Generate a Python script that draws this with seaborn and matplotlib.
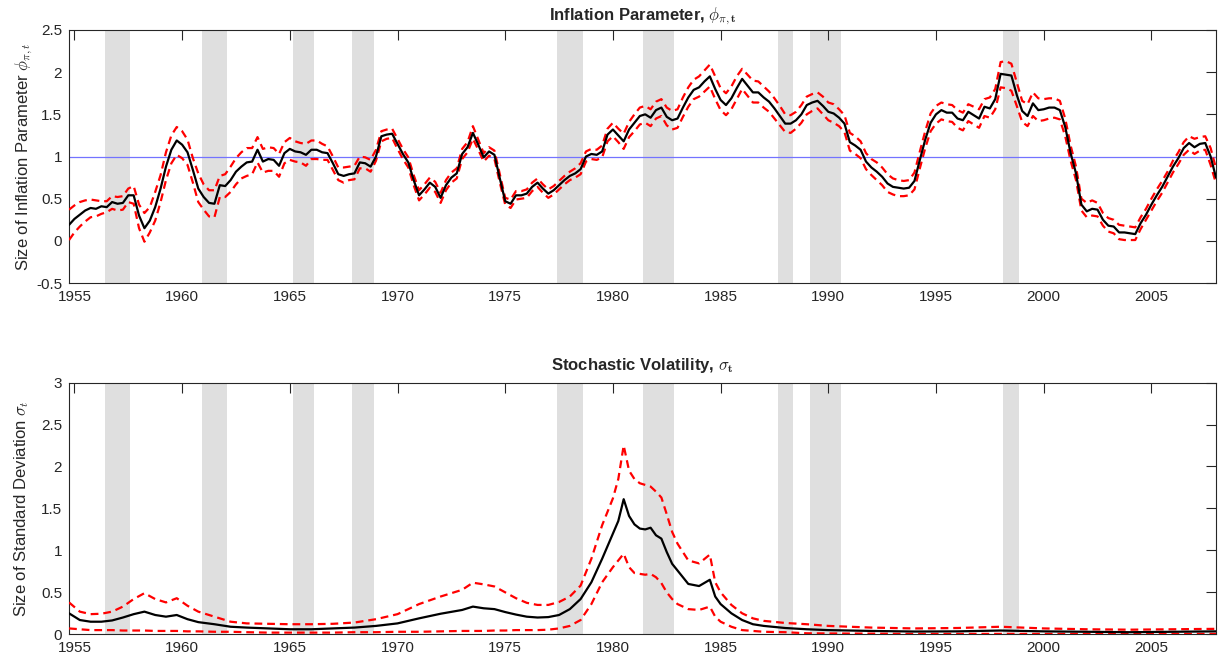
import numpy as np
import pandas as pd
import matplotlib
matplotlib.use("Agg")
import matplotlib.pyplot as plt
import seaborn as sns
from matplotlib.ticker import FuncFormatter

# ========== Данные ==========
# квартальная сетка 1954Q4 ... 2008Q1
quarters = np.arange(1954.75, 2008.0 + 0.01, 0.25)

phi_median = [
    0.19,
    0.26, 0.31, 0.36, 0.39,  # 1955
    0.38, 0.41, 0.40, 0.46,
    0.44, 0.45, 0.54, 0.54,
    0.30, 0.15, 0.24, 0.40,
    0.62, 0.88, 1.08, 1.19,
    1.14, 1.05, 0.84, 0.62,  # 1960
    0.52, 0.45, 0.44, 0.66,
    0.65, 0.72, 0.82, 0.88,
    0.93, 0.94, 1.08, 0.94,
    0.97, 0.96, 0.89, 1.04,
    1.09, 1.06, 1.05, 1.02,  # 1965
    1.08, 1.08, 1.05, 1.04,
    0.92, 0.79, 0.77, 0.79,
    0.80, 0.93, 0.92, 0.88,
    1.00, 1.24, 1.26, 1.27,
    1.15, 1.03, 0.93, 0.72,  # 1970
    0.54, 0.61, 0.69, 0.64,
    0.51, 0.66, 0.75, 0.80,
    1.03, 1.11, 1.28, 1.14,
    0.99, 1.06, 1.02, 0.74,
    0.47, 0.44, 0.54, 0.54,  # 1975
    0.56, 0.64, 0.69, 0.62,
    0.56, 0.60, 0.66, 0.72,
    0.77, 0.80, 0.85, 1.00,
    1.03, 1.02, 1.06, 1.26,
    1.32, 1.25, 1.18, 1.32,  # 1980
    1.40, 1.48, 1.50, 1.46,
    1.55, 1.58, 1.47, 1.43,
    1.45, 1.58, 1.70, 1.79,
    1.82, 1.89, 1.95, 1.80,
    1.67, 1.61, 1.69, 1.81,  # 1985
    1.92, 1.84, 1.76, 1.76,
    1.70, 1.65, 1.57, 1.48,
    1.39, 1.39, 1.43, 1.50,
    1.61, 1.64, 1.66, 1.60,
    1.53, 1.51, 1.46, 1.39,  # 1990
    1.17, 1.13, 1.08, 0.94,
    0.87, 0.82, 0.76, 0.68,
    0.64, 0.63, 0.62, 0.63,
    0.71, 0.96, 1.20, 1.40,
    1.50, 1.55, 1.52, 1.52,  # 1995
    1.45, 1.43, 1.53, 1.49,
    1.45, 1.59, 1.57, 1.68,
    1.98, 1.97, 1.96, 1.73,
    1.54, 1.48, 1.63, 1.55,
    1.56, 1.58, 1.58, 1.55,  # 2000
    1.35, 1.04, 0.80, 0.43,
    0.35, 0.38, 0.37, 0.25,
    0.18, 0.17, 0.10, 0.10,
    0.09, 0.08, 0.21, 0.31,
    0.43, 0.54, 0.64, 0.76,  # 2005
    0.88, 0.98, 1.10, 1.16,
    1.11, 1.15, 1.16, 1.00,
    0.75,
]

phi_upper = [
    0.37,
    0.42, 0.46, 0.48, 0.49,  # 1955
    0.48, 0.47, 0.47, 0.53,
    0.52, 0.53, 0.62, 0.65,
    0.43, 0.33, 0.40, 0.58,
    0.78, 1.05, 1.25, 1.35,
    1.30, 1.20, 0.98, 0.80,  # 1960
    0.67, 0.60, 0.60, 0.77,
    0.79, 0.88, 0.98, 1.05,
    1.10, 1.10, 1.23, 1.09,
    1.11, 1.10, 1.03, 1.17,
    1.22, 1.18, 1.16, 1.15,  # 1965
    1.19, 1.19, 1.15, 1.12,
    1.00, 0.87, 0.87, 0.88,
    0.89, 1.00, 0.99, 0.96,
    1.08, 1.30, 1.32, 1.33,
    1.21, 1.09, 0.99, 0.78,  # 1970
    0.60, 0.67, 0.75, 0.70,
    0.57, 0.72, 0.81, 0.86,
    1.09, 1.17, 1.36, 1.20,
    1.04, 1.11, 1.07, 0.79,
    0.51, 0.49, 0.59, 0.59,  # 1975
    0.61, 0.69, 0.74, 0.67,
    0.61, 0.65, 0.71, 0.77,
    0.82, 0.86, 0.92, 1.06,
    1.09, 1.08, 1.13, 1.33,
    1.40, 1.33, 1.27, 1.41,  # 1980
    1.50, 1.58, 1.60, 1.56,
    1.65, 1.68, 1.58, 1.54,
    1.56, 1.70, 1.82, 1.91,
    1.95, 2.02, 2.09, 1.95,
    1.81, 1.75, 1.83, 1.95,  # 1985
    2.04, 1.97, 1.90, 1.89,
    1.83, 1.77, 1.69, 1.60,
    1.50, 1.49, 1.53, 1.61,
    1.71, 1.74, 1.76, 1.71,
    1.64, 1.62, 1.56, 1.49,  # 1990
    1.28, 1.24, 1.18, 1.04,
    0.97, 0.93, 0.87, 0.79,
    0.74, 0.72, 0.71, 0.72,
    0.81, 1.06, 1.30, 1.51,
    1.60, 1.64, 1.62, 1.61,  # 1995
    1.55, 1.52, 1.62, 1.59,
    1.56, 1.68, 1.70, 1.80,
    2.12, 2.13, 2.10, 1.88,
    1.66, 1.62, 1.76, 1.69,
    1.68, 1.69, 1.69, 1.66,  # 2000
    1.45, 1.13, 0.88, 0.50,
    0.45, 0.48, 0.45, 0.33,
    0.27, 0.25, 0.19, 0.18,
    0.17, 0.16, 0.28, 0.38,
    0.50, 0.61, 0.71, 0.82,  # 2005
    0.95, 1.05, 1.17, 1.24,
    1.21, 1.23, 1.24, 1.10,
    0.86,
]

phi_lower = [
    0.01,
    0.10, 0.17, 0.23, 0.28,  # 1955
    0.29, 0.32, 0.34, 0.38,
    0.36, 0.37, 0.46, 0.44,
    0.15, -0.01, 0.10, 0.24,
    0.46, 0.72, 0.92, 1.02,
    0.98, 0.90, 0.69, 0.46,  # 1960
    0.37, 0.29, 0.28, 0.52,
    0.52, 0.58, 0.67, 0.74,
    0.77, 0.79, 0.93, 0.81,
    0.83, 0.83, 0.76, 0.92,
    0.96, 0.94, 0.93, 0.89,  # 1965
    0.97, 0.97, 0.96, 0.96,
    0.84, 0.72, 0.69, 0.72,
    0.73, 0.86, 0.86, 0.82,
    0.95, 1.18, 1.21, 1.22,
    1.09, 0.97, 0.87, 0.66,  # 1970
    0.48, 0.55, 0.63, 0.58,
    0.45, 0.60, 0.69, 0.74,
    0.97, 1.05, 1.21, 1.08,
    0.94, 1.01, 0.97, 0.69,
    0.43, 0.39, 0.49, 0.50,  # 1975
    0.51, 0.59, 0.64, 0.57,
    0.51, 0.55, 0.61, 0.67,
    0.72, 0.75, 0.79, 0.94,
    0.97, 0.96, 0.99, 1.18,
    1.24, 1.17, 1.09, 1.23,  # 1980
    1.30, 1.38, 1.40, 1.36,
    1.45, 1.48, 1.37, 1.32,
    1.34, 1.47, 1.59, 1.68,
    1.71, 1.77, 1.83, 1.68,
    1.55, 1.49, 1.56, 1.68,  # 1985
    1.80, 1.72, 1.64, 1.64,
    1.58, 1.53, 1.45, 1.37,
    1.29, 1.28, 1.33, 1.40,
    1.50, 1.54, 1.57, 1.50,
    1.43, 1.40, 1.36, 1.29,  # 1990
    1.07, 1.03, 0.98, 0.85,
    0.78, 0.72, 0.66, 0.58,
    0.55, 0.53, 0.53, 0.54,
    0.61, 0.86, 1.10, 1.30,
    1.39, 1.44, 1.42, 1.41,  # 1995
    1.34, 1.31, 1.42, 1.38,
    1.34, 1.48, 1.46, 1.56,
    1.82, 1.81, 1.78, 1.60,
    1.41, 1.36, 1.48, 1.42,
    1.43, 1.45, 1.46, 1.44,  # 2000
    1.24, 0.95, 0.72, 0.36,
    0.28, 0.30, 0.29, 0.18,
    0.11, 0.09, 0.02, 0.01,
    0.01, 0.01, 0.14, 0.25,
    0.36, 0.47, 0.57, 0.69,  # 2005
    0.81, 0.91, 1.02, 1.08,
    1.03, 1.07, 1.08, 0.90,
    0.68,
]

# стохастическая волатильность (неравномерная сетка по годам)
vol_years = [
    1954.75, 1955.25, 1955.75, 1956.25, 1956.75, 1957.25, 1957.75, 1958.25,
    1958.75, 1959.25, 1959.75, 1960.25, 1960.75, 1961.5, 1962.25, 1963,
    1964, 1965, 1966, 1967, 1968, 1969, 1970, 1971, 1972, 1973, 1973.5,
    1974, 1974.5, 1975, 1975.5, 1976, 1976.5, 1977, 1977.5, 1978, 1978.5,
    1979, 1979.5, 1980, 1980.25, 1980.5, 1980.75, 1981, 1981.25, 1981.5,
    1981.75, 1982, 1982.25, 1982.5, 1982.75, 1983, 1983.5, 1984, 1984.5,
    1984.75, 1985, 1985.5, 1986, 1986.5, 1987, 1988, 1989, 1990, 1992,
    1994, 1996, 1998, 2000, 2002, 2004, 2006, 2008,
]
vol_median = [
    0.25, 0.17, 0.15, 0.15, 0.165, 0.20, 0.24, 0.27,
    0.23, 0.21, 0.23, 0.18, 0.145, 0.12, 0.09, 0.08,
    0.07, 0.06, 0.06, 0.07, 0.08, 0.10, 0.13, 0.19, 0.245, 0.29, 0.33,
    0.31, 0.30, 0.265, 0.235, 0.21, 0.20, 0.205, 0.23, 0.30, 0.42,
    0.62, 0.90, 1.20, 1.35, 1.61, 1.41, 1.31, 1.26, 1.25,
    1.27, 1.18, 1.14, 0.98, 0.84, 0.76, 0.60, 0.575, 0.65,
    0.45, 0.36, 0.25, 0.17, 0.12, 0.10, 0.075, 0.06, 0.05, 0.04,
    0.033, 0.035, 0.045, 0.035, 0.03, 0.025, 0.03, 0.035,
]
vol_upper = [
    0.38, 0.27, 0.24, 0.245, 0.27, 0.33, 0.42, 0.49,
    0.42, 0.38, 0.43, 0.34, 0.27, 0.21, 0.15, 0.13,
    0.125, 0.12, 0.12, 0.125, 0.14, 0.18, 0.24, 0.36, 0.45, 0.53, 0.615,
    0.595, 0.57, 0.50, 0.43, 0.375, 0.35, 0.35, 0.385, 0.45, 0.58,
    0.90, 1.30, 1.62, 1.85, 2.25, 1.95, 1.85, 1.80, 1.78,
    1.76, 1.70, 1.63, 1.43, 1.22, 1.08, 0.88, 0.845, 0.95,
    0.62, 0.50, 0.35, 0.25, 0.19, 0.16, 0.135, 0.12, 0.10, 0.08,
    0.07, 0.075, 0.09, 0.07, 0.06, 0.055, 0.06, 0.065,
]
vol_lower = [
    0.07, 0.06, 0.05, 0.05, 0.05, 0.045, 0.045, 0.045,
    0.04, 0.04, 0.04, 0.035, 0.035, 0.03, 0.03, 0.025,
    0.02, 0.02, 0.02, 0.02, 0.025, 0.025, 0.03, 0.03, 0.035, 0.04, 0.04,
    0.04, 0.045, 0.045, 0.05, 0.05, 0.05, 0.055, 0.07, 0.10, 0.17,
    0.36, 0.62, 0.80, 0.88, 0.96, 0.80, 0.73, 0.72, 0.71,
    0.72, 0.68, 0.61, 0.50, 0.42, 0.36, 0.30, 0.29, 0.33,
    0.21, 0.15, 0.09, 0.05, 0.04, 0.03, 0.025, 0.012, 0.01, 0.008,
    0.005, 0.005, 0.005, 0.005, 0.005, 0.005, 0.005, 0.005,
]

# периоды рецессий (серые полосы)
recession_start = [1956.4, 1960.9, 1965.15, 1967.9, 1977.4, 1981.4, 1987.65, 1989.15, 1998.1]
recession_end = [1957.6, 1962.1, 1966.1, 1968.9, 1978.6, 1982.85, 1988.35, 1990.6, 1998.85]

phi_df = pd.DataFrame({"year": quarters, "median": phi_median,
                       "upper": phi_upper, "lower": phi_lower})
vol_df = pd.DataFrame({"year": vol_years, "median": vol_median,
                       "upper": vol_upper, "lower": vol_lower})

# ========== Оформление ==========
sns.set_style("white")
plt.rcParams["font.family"] = ["Liberation Sans", "DejaVu Sans"]
plt.rcParams["mathtext.fontset"] = "cm"

AX_COLOR = "#262626"
SHADE = (0.875, 0.875, 0.875)
DASH = (0, (3.5, 2.2))


def style_axes(ax, ylim, yticks):
    for s in ax.spines.values():
        s.set_visible(True)
        s.set_color(AX_COLOR)
        s.set_linewidth(0.8)
    ax.set_xlim(1954.75, 2008.0)
    ax.set_ylim(*ylim)
    ax.set_xticks(range(1955, 2010, 5))
    ax.set_yticks(yticks)
    ax.yaxis.set_major_formatter(FuncFormatter(lambda v, p: f"{v:g}"))
    ax.tick_params(direction="in", length=7, width=0.8, color=AX_COLOR,
                   labelsize=11, labelcolor=AX_COLOR, top=True, right=True)
    ax.tick_params(axis="y", pad=5)
    ax.tick_params(axis="x", pad=5)
    ax.set_xlabel("")


def draw_panel(ax, df):
    for a, b in zip(recession_start, recession_end):
        ax.axvspan(a, b, color=SHADE, lw=0, zorder=0)
    sns.lineplot(data=df, x="year", y="upper", ax=ax, color="red",
                 lw=1.6, linestyle=DASH, zorder=3)
    sns.lineplot(data=df, x="year", y="lower", ax=ax, color="red",
                 lw=1.6, linestyle=DASH, zorder=3)
    sns.lineplot(data=df, x="year", y="median", ax=ax, color="black",
                 lw=1.6, zorder=4)


fig = plt.figure(figsize=(12.22, 6.66), dpi=100)
ax1 = fig.add_axes([0.0565, 0.575, 0.9386, 0.380])
ax2 = fig.add_axes([0.0565, 0.0476, 0.9386, 0.378])

# Верхний график: параметр инфляции
draw_panel(ax1, phi_df)
ax1.axhline(1.0, color=(0.45, 0.45, 1.0), lw=0.9, zorder=2)
style_axes(ax1, (-0.5, 2.5), [-0.5, 0, 0.5, 1, 1.5, 2, 2.5])
ax1.set_title(r"Inflation Parameter, $\phi_{\pi,\mathbf{t}}$",
              fontsize=12, fontweight="bold", pad=7)
ax1.set_ylabel(r"Size of Inflation Parameter $\phi_{\pi,t}$",
               fontsize=12, color=AX_COLOR, labelpad=1)

# Нижний график: стохастическая волатильность
draw_panel(ax2, vol_df)
style_axes(ax2, (0, 3), [0, 0.5, 1, 1.5, 2, 2.5, 3])
ax2.set_title(r"Stochastic Volatility, $\sigma_{\mathbf{t}}$",
              fontsize=12, fontweight="bold", pad=9)
ax2.set_ylabel(r"Size of Standard Deviation $\sigma_t$",
               fontsize=12, color=AX_COLOR, labelpad=7)

fig.savefig("out.png", dpi=100)
